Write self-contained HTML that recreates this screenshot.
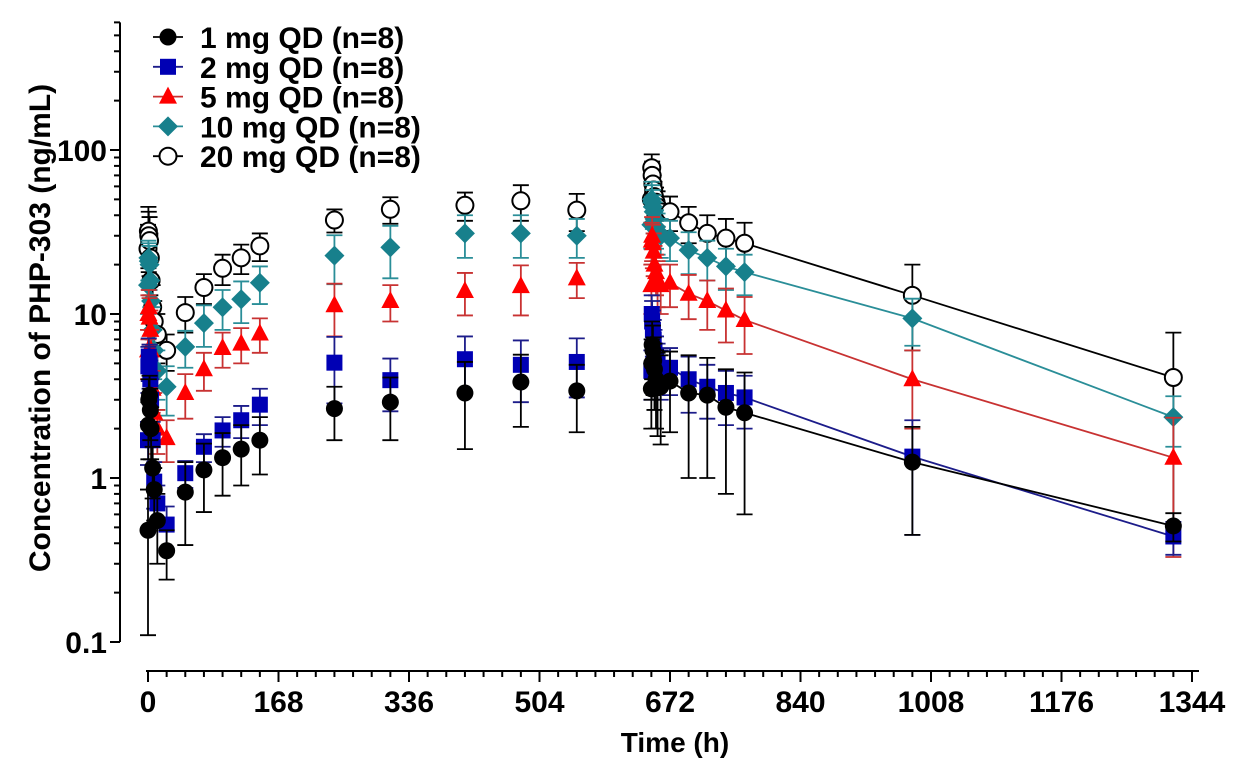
<!DOCTYPE html>
<html><head><meta charset="utf-8">
<style>
html,body{margin:0;padding:0;background:#fff;}
svg{display:block;font-family:"Liberation Sans",Arial,sans-serif;font-weight:bold;}
</style></head>
<body>
<svg id="chart" width="1257" height="768" viewBox="0 0 1257 768">
<g id="axes"></g>
<g id="series"></g>
<g id="legend"></g>
<text x="675" y="752" font-size="28" text-anchor="middle">Time (h)</text>
<text transform="translate(50,328) rotate(-90)" font-size="30" text-anchor="middle">Concentration of PHP-303 (ng/mL)</text>
</svg>
<script>
const times=[0,0.5,1,2,3,4,6,8,12,24,48,72,96,120,144,240,312,408,480,552,648,648.5,649,650,651,652,654,656,660,672,696,720,744,768,984,1320];
const xTicks=[0,168,336,504,672,840,1008,1176,1344];
const yTicks=[0.1,1,10,100];
const yTickLabels=["0.1","1","10","100"];
const names=["1 mg QD (n=8)","2 mg QD (n=8)","5 mg QD (n=8)","10 mg QD (n=8)","20 mg QD (n=8)"];
const mean1=[0.48,2.1,3.0,3.2,2.6,2.0,1.15,0.85,0.55,0.36,0.82,1.12,1.33,1.5,1.7,2.65,2.9,3.3,3.85,3.4,3.5,5.0,6.5,6.0,5.2,4.6,4.0,3.8,3.6,3.9,3.3,3.2,2.7,2.5,1.25,0.51];
const sd1=[0.37,0.8,1,1,0.9,0.7,0.4,0.3,0.25,0.12,0.43,0.5,0.55,0.6,0.65,0.95,1.2,1.8,1.8,1.5,1.5,2,2.5,2.5,2,2,2,2,2,2,2.3,2.2,1.9,1.9,0.8,0.1];
const mean2=[1.7,4.8,5.5,5.0,4.0,3.0,1.7,0.95,0.7,0.52,1.07,1.55,1.95,2.25,2.8,5.05,3.95,5.3,4.9,5.1,4.5,10,9,8,7,6,5.5,5,4.5,4.7,4.0,3.6,3.3,3.1,1.35,0.44];
const sd2=[0.5,1.5,1.6,1.5,1.2,1,0.5,0.3,0.2,0.15,0.2,0.3,0.4,0.5,0.7,2.2,1.4,2,2,2,1.5,3,3,2.5,2.2,2,1.8,1.6,1.5,1.5,1.5,1.3,1.2,1.1,0.9,0.1];
const mean5=[6,10,11,9.5,8,6,3.5,2.5,2.0,1.75,3.3,4.6,6.2,6.6,7.6,11.3,12,13.8,14.8,16.5,15,28,30,27,24,20,18,16,15,15.5,13.3,12,10.5,9.2,4.0,1.33];
const sd5=[2,3,3,3,2.5,2,1,0.8,0.6,0.5,1,1.2,1.5,1.6,1.8,4,3,4,5,4,5,8,9,8,7,6,5,5,5,4.5,4,4,3.8,3.5,2,1];
const mean10=[15,22,21,20,16,12,8,6,4.5,3.6,6.3,8.8,11,12.3,15.5,22.7,25.5,31,31,30,35,50,48,45,42,38,34,32,30,29,24.5,22,19.5,18,9.4,2.35];
const sd10=[5,6,6,6,5,4,3,2,1.5,1.2,1.6,2.5,3,3.5,4,7.5,9,9,9,8,10,14,13,12,11,10,9,9,8,8,7,6,5.5,5,3,0.8];
const mean20=[25,32,30,28,22,16,11,9,7.5,6.0,10.2,14.5,19,22,26,37.4,43.5,46,49,43,50,78,70,62,57,52,48,45,42,42,36,31,29,27,13,4.1];
const sd20=[10,13,12,11,9,6,4,3,2.5,1.5,2.5,3,4,4.5,5,6,8,9,12,11,14,16,15,14,13,12,11,11,10,10,9,9,9,9,7,3.6];

const NS="http://www.w3.org/2000/svg";
const X0=148,XS=130.5/168,YT=150,YD=164;
function xs(t){return X0+t*XS;}
function ys(v){return YT-(Math.log10(v)-2)*YD;}
const YMIN=0.1,YMAX=600;
function mk(tag,attrs,parent){const e=document.createElementNS(NS,tag);for(const k in attrs)e.setAttribute(k,attrs[k]);parent.appendChild(e);return e;}
const axes=document.getElementById('axes');
let ya=mk('line',{x1:120,y1:ys(YMAX),x2:120,y2:ys(YMIN),stroke:'#000','stroke-width':2},axes);


for(let d=-1;d<=2;d++){for(let m=1;m<10;m++){const v=m*Math.pow(10,d);if(v>YMAX)break;
 const tk=mk('line',{x1:m===1?110:114,y1:ys(v),x2:120,y2:ys(v),stroke:'#000','stroke-width':2},axes);
 
 }}
yTicks.forEach((v,i)=>{const t=mk('text',{x:107,y:ys(v)+11,'font-size':30,'text-anchor':'end'},axes);t.textContent=yTickLabels[i];
 
 });
let xa=mk('line',{x1:X0-2,y1:671,x2:1199,y2:671,stroke:'#000','stroke-width':2},axes);


for(let t=0;t<=1344;t+=24){const major=t%168===0;
 const tk=mk('line',{x1:xs(t),y1:671,x2:xs(t),y2:major?682:677,stroke:'#000','stroke-width':2},axes);
 
 }
xTicks.forEach(t=>{const e=mk('text',{x:xs(t),y:712,'font-size':30,'text-anchor':'middle'},axes);e.textContent=String(t);
 
 });

const series=[
 {m:mean20,s:sd20,shape:'circle-open',line:'#000',err:'#000'},
 {m:mean10,s:sd10,shape:'diamond',fill:'#17808c',line:'#2a8e98',err:'#2a8e98'},
 {m:mean5,s:sd5,shape:'triangle',fill:'#ff0000',line:'#c83232',err:'#c83232'},
 {m:mean2,s:sd2,shape:'square',fill:'#0000b4',line:'#1c1c8a',err:'#1c1c8a'},
 {m:mean1,s:sd1,shape:'circle',fill:'#000',line:'#000',err:'#000'}];
function marker(shape,x,y,fill,parent,sz){sz=sz||1;
 if(shape==='circle')return mk('circle',{cx:x,cy:y,r:8.5*sz,fill:'#000'},parent);
 if(shape==='circle-open')return mk('circle',{cx:x,cy:y,r:8.5*sz,fill:'#fff',stroke:'#000','stroke-width':2},parent);
 if(shape==='square')return mk('rect',{x:x-8*sz,y:y-8*sz,width:16*sz,height:16*sz,fill:fill},parent);
 if(shape==='triangle')return mk('polygon',{points:`${x},${y-10*sz} ${x+9*sz},${y+7*sz} ${x-9*sz},${y+7*sz}`,fill:fill},parent);
 if(shape==='diamond')return mk('polygon',{points:`${x},${y-10*sz} ${x+10*sz},${y} ${x},${y+10*sz} ${x-10*sz},${y}`,fill:fill},parent);}
const sg=document.getElementById('series');
series.forEach((se,si)=>{
 const g=mk('g',{},sg);
 
 
 times.forEach((t,i)=>{const x=xs(t),hi=se.m[i]+se.s[i],lo=se.m[i]-se.s[i];
  const yh=ys(hi),yl=lo>YMIN?ys(lo):ys(YMIN);
  const e=mk('path',{d:`M${x},${yh}V${yl}M${x-8},${yh}H${x+8}`+(lo>YMIN?`M${x-8},${yl}H${x+8}`:''),stroke:se.err,'stroke-width':1.8,fill:'none'},g);
  
  });
 let d='';times.forEach((t,i)=>{if(i>=20)d+=(i===20?'M':'L')+xs(t)+','+ys(se.m[i]);});
 const ln=mk('path',{d:d,stroke:se.line,'stroke-width':1.8,fill:'none'},g);
 
 
 times.forEach((t,i)=>{const p=marker(se.shape,xs(t),ys(se.m[i]),se.fill,g);
  
  });
});
const lg=document.getElementById('legend');
const legOrder=[4,3,2,1,0];
legOrder.forEach((si,r)=>{const se=series[si];const y=37+29.8*r;
 const g=mk('g',{},lg);
 
 
 mk('line',{x1:153,y1:y,x2:183,y2:y,stroke:se.line,'stroke-width':1.8},g);
 marker(se.shape,168,y,se.fill,g);
 const t=mk('text',{x:200,y:y+11,'font-size':30},g);t.textContent=names[r];});
</script>
</body></html>
